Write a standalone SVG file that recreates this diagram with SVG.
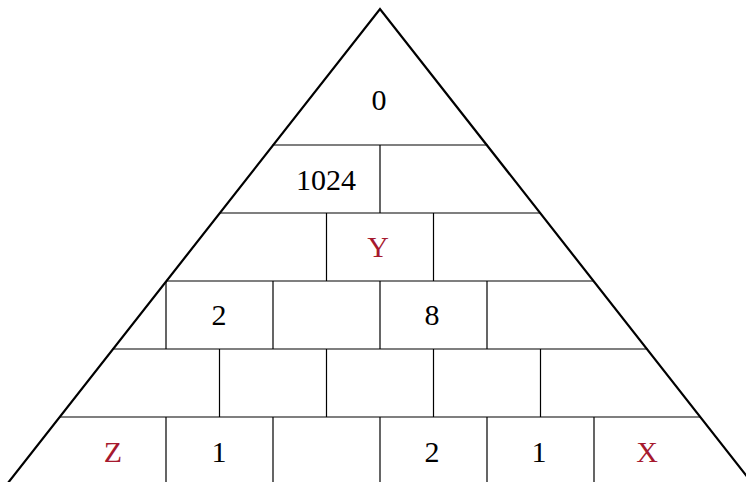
<svg xmlns="http://www.w3.org/2000/svg" width="746" height="482" viewBox="0 0 746 482">
<style>
.edge{fill:none;stroke:#000;stroke-width:2.2;stroke-linejoin:miter}
.grid{stroke:#000;stroke-width:1.2;fill:none}
.t{font-family:"Liberation Serif","DejaVu Serif",serif;font-size:30px;text-anchor:middle;fill:#000}
.r{fill:#a6192e}
</style>
<rect width="746" height="482" fill="#fff"/>
<g id="connectors">
<path class="grid" d="M272.5,145H487.5 M219,213H541 M166,281H594 M112.5,349H647.5 M59,417H701"/>
<path class="grid" d="M380,145V213 M326.5,213V281 M433.5,213V281 M166,281V349 M273,281V349 M380,281V349 M487,281V349 M219.5,349V417 M326.5,349V417 M433.5,349V417 M540.5,349V417 M166,417V482 M273,417V482 M380,417V482 M487,417V482 M594,417V482"/>
</g>
<g id="pyramid">
<path class="edge" d="M4,488 L380,9 L756,488"/>
</g>
<g id="n0"><text class="t" x="379" y="110">0</text></g>
<g id="n1024"><text class="t" x="326" y="190">1024</text></g>
<g id="nY"><text class="t r" x="378" y="257">Y</text></g>
<g id="n2a"><text class="t" x="219" y="325">2</text></g>
<g id="n8"><text class="t" x="432" y="325">8</text></g>
<g id="nZ"><text class="t r" x="113" y="462">Z</text></g>
<g id="n1a"><text class="t" x="219" y="462">1</text></g>
<g id="n2b"><text class="t" x="432" y="462">2</text></g>
<g id="n1b"><text class="t" x="539" y="462">1</text></g>
<g id="nX"><text class="t r" x="647" y="462">X</text></g>
</svg>
